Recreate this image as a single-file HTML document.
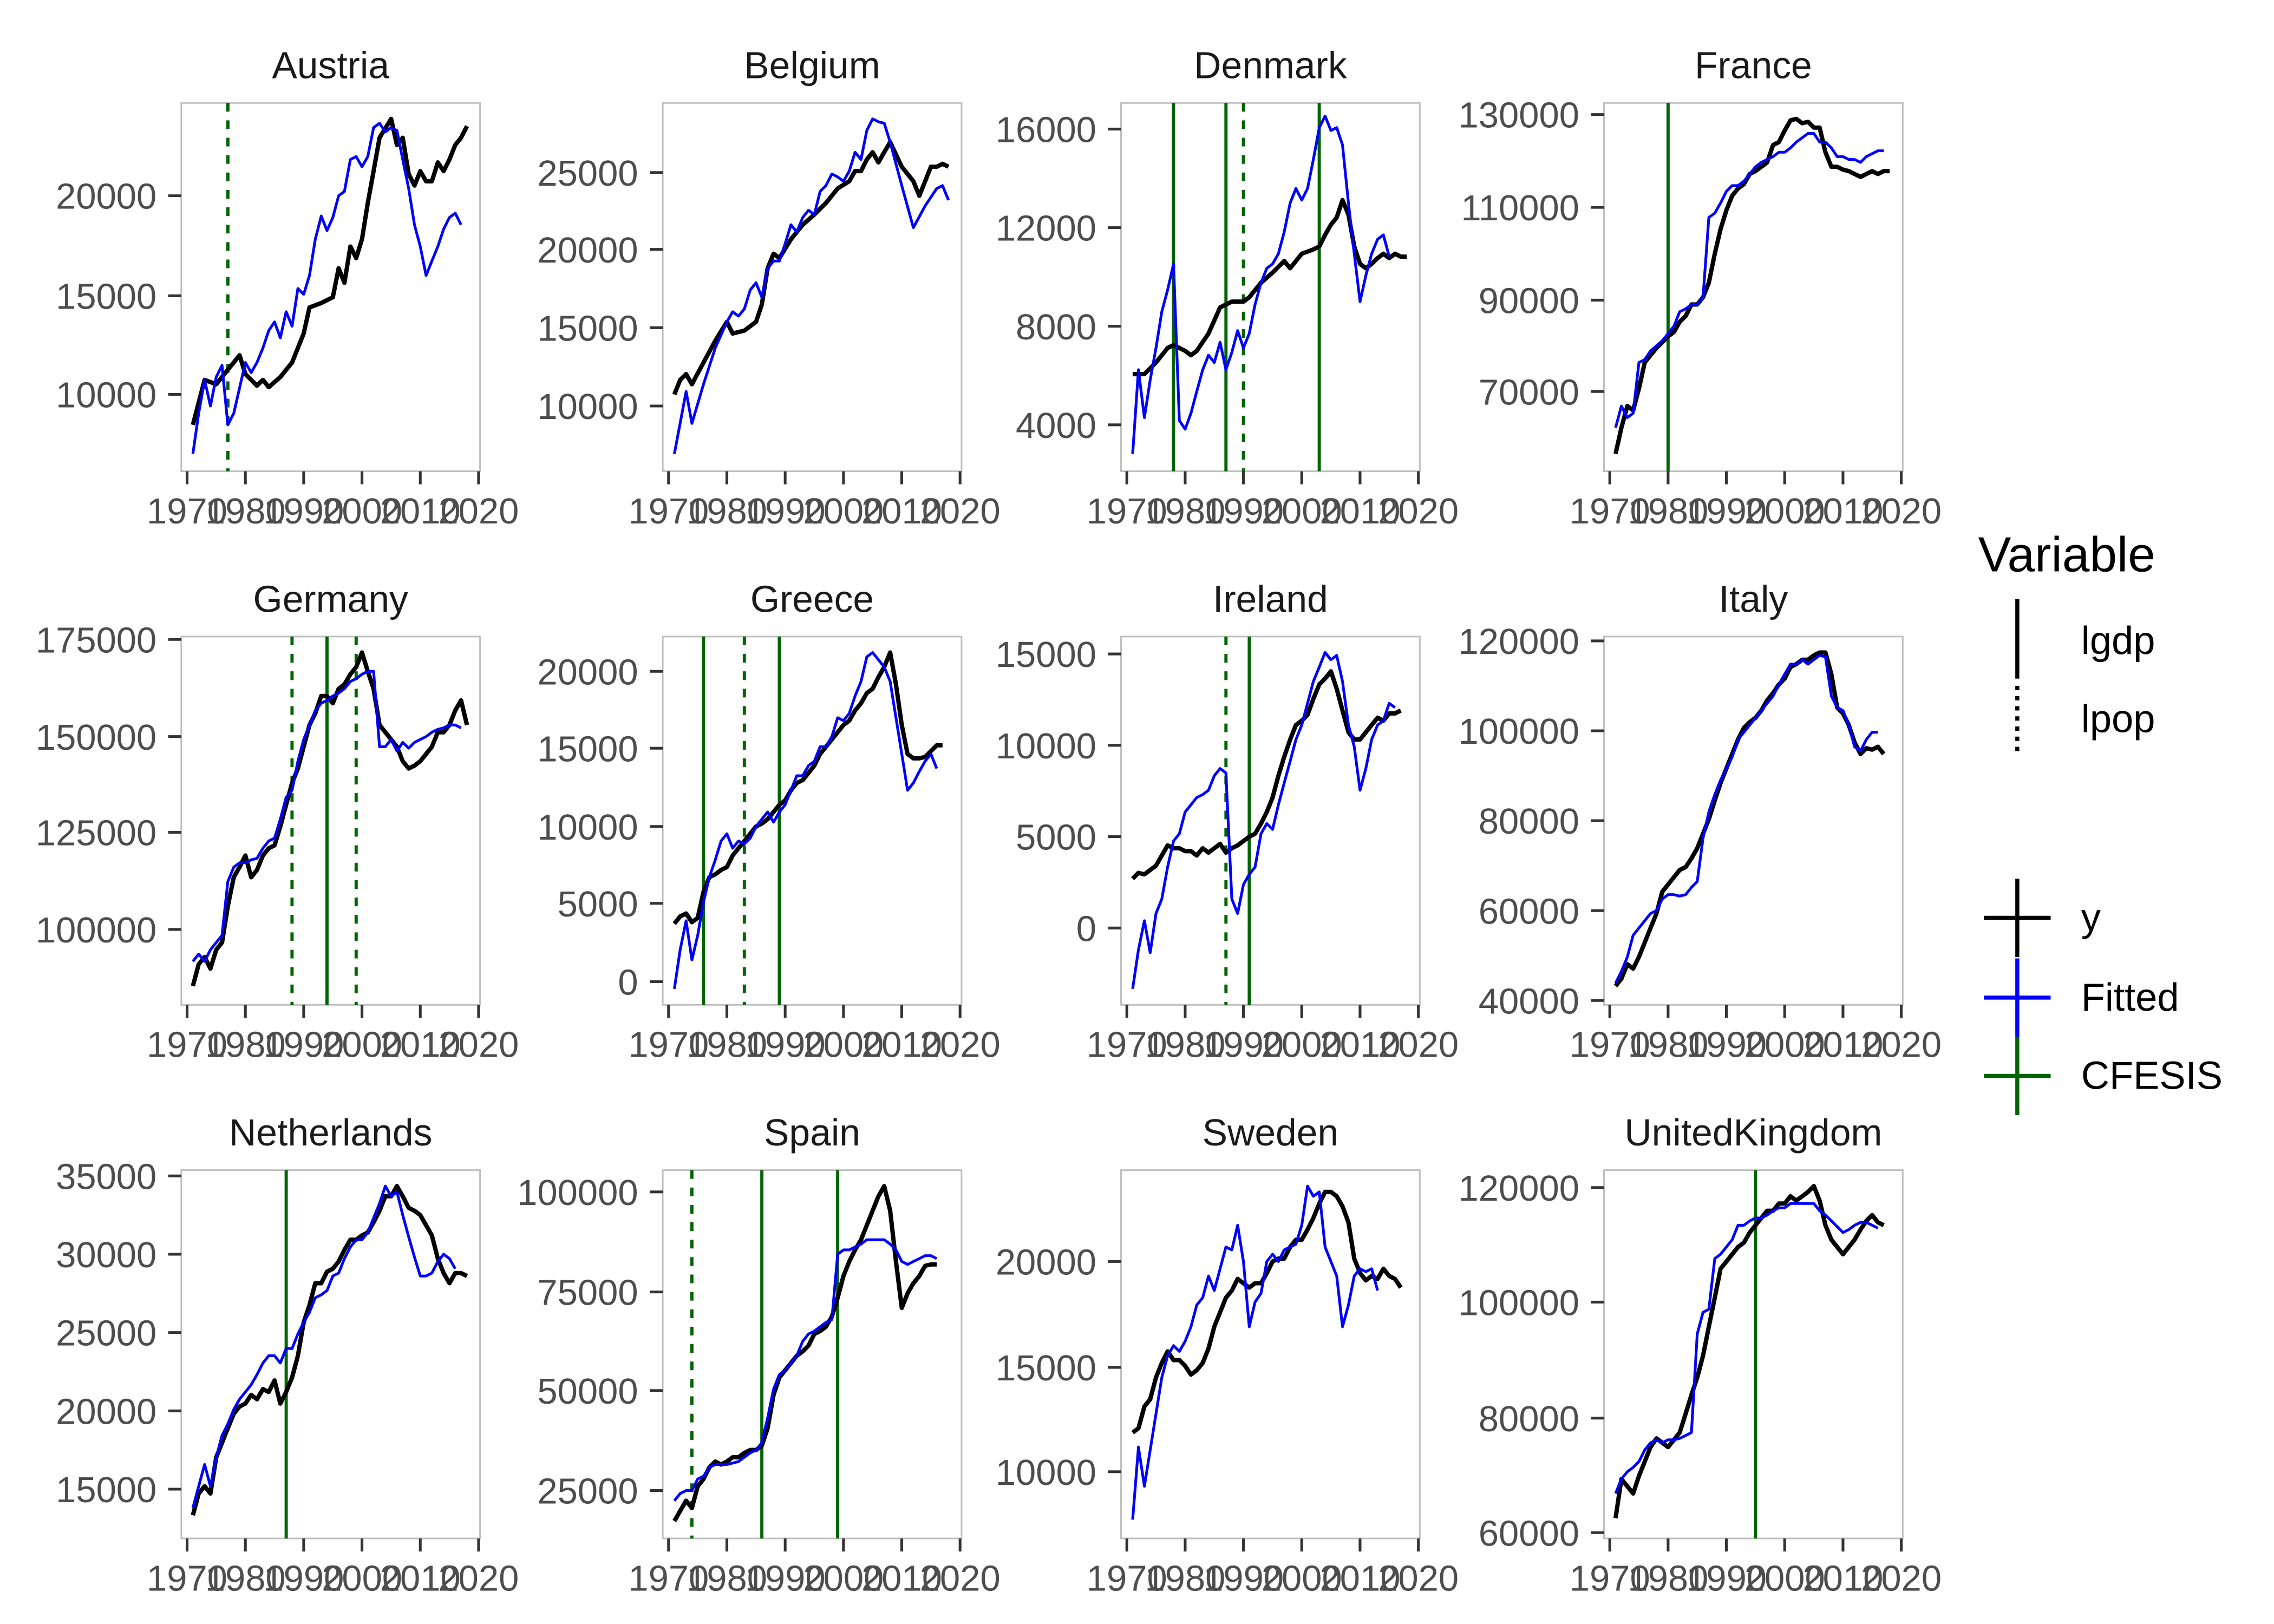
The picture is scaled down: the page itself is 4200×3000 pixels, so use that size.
<!DOCTYPE html>
<html><head><meta charset="utf-8"><style>html,body{margin:0;padding:0;background:#fff}svg{display:block}</style></head>
<body>
<svg id="s" xmlns="http://www.w3.org/2000/svg" width="4200" height="3000" viewBox="0 0 1568 1120" preserveAspectRatio="none" font-family="Liberation Sans, Arial, sans-serif"></svg>
<script>
const P=[
{n:"Austria",L:125,T:71,yt:[[10000,272],[15000,204],[20000,135]],g:[[1977,1]],
b:"1971:293 1973:262 1975:265 1977:255 1979:245 1980:258 1982:266 1983:262 1984:267 1986:260 1988:250 1990:230 1991:212 1993:209 1995:205 1996:185 1997:195 1998:170 1999:178 2000:165 2001:140 2002:118 2003:95 2005:82 2006:100 2007:95 2008:120 2009:128 2010:118 2011:125 2012:125 2013:112 2014:118 2015:110 2016:100 2017:95 2018:87",
u:"1971:313 1972:285 1973:262 1974:280 1975:260 1976:252 1977:293 1978:285 1980:250 1981:257 1982:250 1983:240 1984:228 1985:222 1986:233 1987:215 1988:225 1989:199 1990:203 1991:190 1992:165 1993:149 1994:159 1995:150 1996:135 1997:132 1998:110 1999:108 2000:115 2001:108 2002:88 2003:85 2004:91 2005:88 2006:90 2007:110 2008:130 2009:155 2010:170 2011:190 2012:180 2013:170 2014:158 2015:150 2016:147 2017:155"},
{n:"Belgium",L:457,T:71,yt:[[10000,280],[15000,226],[20000,172],[25000,119]],g:[],
b:"1971:272 1972:262 1973:258 1974:265 1976:250 1978:235 1980:222 1981:230 1983:228 1985:222 1986:210 1987:185 1988:175 1989:178 1991:165 1993:155 1995:148 1997:140 1999:130 2001:125 2002:118 2003:118 2004:110 2005:105 2006:112 2007:105 2008:98 2010:115 2012:125 2013:135 2014:125 2015:115 2016:115 2017:113 2018:115",
u:"1971:313 1973:270 1974:292 1976:265 1978:240 1980:222 1981:215 1982:218 1983:213 1984:200 1985:195 1986:205 1987:185 1988:180 1989:180 1990:168 1991:155 1992:160 1993:150 1994:145 1995:148 1996:132 1997:128 1998:120 1999:122 2000:125 2001:118 2002:105 2003:110 2004:90 2005:82 2006:84 2007:85 2008:98 2010:128 2012:157 2014:142 2016:130 2017:128 2018:138"},
{n:"Denmark",L:773,T:71,yt:[[4000,293],[8000,225],[12000,157],[16000,89]],g:[[1978,0],[1987,0],[1990,1],[2003,0]],
b:"1971:258 1973:258 1975:250 1977:240 1978:238 1980:242 1981:245 1982:242 1984:230 1986:212 1988:208 1990:208 1991:205 1993:195 1995:188 1997:180 1998:185 2000:175 2002:172 2003:170 2004:162 2005:155 2006:150 2007:138 2008:148 2009:170 2010:182 2011:185 2012:182 2013:178 2014:175 2015:178 2016:175 2017:177 2018:177",
u:"1971:313 1972:255 1973:288 1974:262 1975:240 1976:215 1977:200 1978:182 1979:290 1980:296 1981:285 1982:270 1983:255 1984:245 1985:250 1986:236 1987:255 1988:243 1989:228 1990:240 1991:230 1992:210 1993:195 1994:185 1995:182 1996:175 1997:160 1998:140 1999:130 2000:138 2001:130 2002:110 2003:88 2004:80 2005:90 2006:88 2007:100 2008:140 2009:175 2010:208 2011:190 2012:175 2013:165 2014:162 2015:177"},
{n:"France",L:1106,T:71,yt:[[70000,270],[90000,207],[110000,143],[130000,79]],g:[[1980,0]],
b:"1971:313 1972:295 1973:280 1974:283 1975:268 1976:250 1977:245 1978:240 1980:232 1981:229 1982:222 1983:218 1984:210 1985:210 1986:205 1987:195 1988:175 1989:158 1990:145 1991:135 1992:130 1993:127 1994:120 1995:118 1996:115 1997:112 1998:100 1999:98 2000:90 2001:83 2002:82 2003:85 2004:84 2005:88 2006:88 2007:105 2008:115 2009:115 2010:117 2011:118 2012:120 2013:122 2014:120 2015:118 2016:120 2017:118 2018:118",
u:"1971:295 1972:280 1973:288 1974:285 1975:250 1976:248 1977:242 1979:235 1980:230 1981:225 1982:215 1983:213 1984:210 1985:210 1986:205 1987:150 1988:147 1989:140 1990:132 1991:128 1992:128 1993:125 1994:120 1995:115 1996:112 1997:110 1998:108 1999:105 2000:105 2001:102 2002:98 2003:95 2004:92 2005:92 2006:98 2007:98 2008:102 2009:108 2010:108 2011:110 2012:110 2013:112 2014:108 2015:106 2016:104 2017:104"},
{n:"Germany",L:125,T:439,yt:[[100000,641],[125000,574],[150000,508],[175000,441]],g:[[1988,1],[1994,0],[1999,1]],
b:"1971:680 1972:665 1973:660 1974:668 1975:655 1976:650 1977:625 1978:605 1979:598 1980:590 1981:605 1982:600 1983:590 1984:585 1985:583 1986:570 1987:555 1988:540 1989:530 1990:515 1991:500 1992:492 1993:480 1994:480 1995:485 1996:475 1997:472 1998:465 1999:460 2000:450 2001:463 2002:475 2003:500 2004:505 2005:510 2006:515 2007:525 2008:530 2009:528 2010:525 2011:520 2012:515 2013:505 2014:505 2015:500 2016:490 2017:483 2018:500",
u:"1971:663 1972:658 1973:663 1974:655 1975:650 1976:645 1977:608 1978:598 1979:595 1980:595 1981:593 1982:592 1983:585 1984:580 1985:578 1986:565 1987:550 1988:545 1989:525 1990:510 1991:500 1992:490 1993:485 1994:483 1995:480 1996:478 1997:475 1998:470 1999:468 2000:465 2001:463 2002:463 2003:515 2004:515 2005:510 2006:518 2007:512 2008:516 2009:512 2010:510 2011:508 2012:505 2013:503 2014:502 2015:500 2016:500 2017:502"},
{n:"Greece",L:457,T:439,yt:[[0,677],[5000,623],[10000,570],[15000,516],[20000,463]],g:[[1976,0],[1983,1],[1989,0]],
b:"1971:637 1972:632 1973:630 1974:636 1975:633 1976:615 1977:605 1978:603 1979:600 1980:598 1981:590 1982:585 1983:580 1984:575 1985:570 1986:568 1987:565 1988:560 1989:555 1990:552 1991:545 1992:540 1993:538 1994:533 1995:528 1996:520 1997:515 1998:510 1999:505 2000:500 2001:497 2002:490 2003:485 2004:478 2005:475 2006:467 2007:460 2008:450 2009:472 2010:500 2011:520 2012:523 2013:523 2014:522 2015:518 2016:514 2017:514",
u:"1971:682 1972:655 1973:635 1974:662 1975:645 1976:622 1977:605 1978:593 1979:580 1980:575 1981:585 1982:580 1983:582 1984:578 1985:570 1986:565 1987:560 1988:567 1989:560 1990:555 1991:545 1992:535 1993:535 1994:528 1995:525 1996:515 1997:515 1998:508 1999:495 2000:497 2001:492 2002:480 2003:470 2004:453 2005:450 2006:455 2007:460 2008:470 2009:495 2010:520 2011:545 2012:540 2013:532 2014:525 2015:520 2016:530"},
{n:"Ireland",L:773,T:439,yt:[[0,640],[5000,577],[10000,514],[15000,451]],g:[[1987,1],[1991,0]],
b:"1971:606 1972:602 1973:603 1974:600 1975:597 1976:590 1977:583 1978:585 1979:585 1980:587 1981:587 1982:590 1983:585 1984:588 1985:585 1986:582 1987:588 1988:585 1989:583 1990:580 1991:577 1992:575 1993:568 1994:560 1995:550 1996:535 1997:522 1998:510 1999:500 2000:497 2001:493 2002:482 2003:472 2004:468 2005:463 2006:475 2007:490 2008:505 2009:510 2010:510 2011:505 2012:500 2013:495 2014:497 2015:492 2016:492 2017:490",
u:"1971:682 1972:655 1973:635 1974:657 1975:630 1976:620 1977:598 1978:580 1979:575 1980:560 1981:555 1982:550 1983:548 1984:545 1985:535 1986:530 1987:533 1988:620 1989:630 1990:610 1991:603 1992:598 1993:575 1994:568 1995:572 1996:555 1997:540 1998:525 1999:510 2000:500 2001:485 2002:470 2003:460 2004:450 2005:455 2006:452 2007:470 2008:500 2009:515 2010:545 2011:530 2012:510 2013:500 2014:497 2015:485 2016:488"},
{n:"Italy",L:1106,T:439,yt:[[40000,690],[60000,628],[80000,566],[100000,504],[120000,442]],g:[],
b:"1971:680 1972:675 1973:665 1974:668 1975:660 1976:650 1977:640 1978:630 1979:615 1980:610 1981:605 1982:600 1983:598 1984:592 1985:585 1986:575 1987:565 1988:552 1989:540 1990:530 1991:520 1992:510 1993:502 1994:498 1995:495 1996:490 1997:483 1998:478 1999:472 2000:468 2001:460 2002:458 2003:455 2004:455 2005:452 2006:450 2007:450 2008:465 2009:488 2010:492 2011:500 2012:512 2013:520 2014:516 2015:517 2016:515 2017:520",
u:"1971:678 1972:670 1973:660 1974:645 1975:640 1976:635 1977:630 1978:628 1979:620 1980:617 1981:617 1982:618 1983:617 1984:612 1985:608 1986:578 1987:560 1988:548 1989:538 1990:530 1991:522 1992:510 1993:505 1994:500 1995:495 1996:490 1997:485 1998:480 1999:472 2000:465 2001:458 2002:458 2003:455 2004:458 2005:455 2006:452 2007:453 2008:480 2009:488 2010:490 2011:500 2012:515 2013:518 2014:510 2015:505 2016:505"},
{n:"Netherlands",L:125,T:807,yt:[[15000,1027],[20000,973],[25000,919],[30000,865],[35000,811]],g:[[1987,0]],
b:"1971:1045 1972:1030 1973:1025 1974:1030 1975:1005 1976:995 1977:985 1978:975 1979:970 1980:968 1981:962 1982:965 1983:958 1984:960 1985:952 1986:968 1987:960 1988:950 1989:935 1990:912 1991:900 1992:885 1993:885 1994:877 1995:875 1996:870 1997:862 1998:855 1999:855 2000:852 2001:850 2002:843 2003:835 2004:825 2005:825 2006:818 2007:825 2008:833 2009:835 2010:838 2011:845 2012:852 2013:868 2014:878 2015:885 2016:878 2017:878 2018:880",
u:"1971:1040 1972:1025 1973:1010 1974:1025 1975:1005 1976:990 1977:982 1978:972 1979:965 1980:960 1981:955 1982:948 1983:940 1984:935 1985:935 1986:940 1987:930 1988:930 1989:920 1990:912 1991:905 1992:895 1993:893 1994:890 1995:880 1996:878 1997:868 1998:860 1999:855 2000:855 2001:850 2002:840 2003:830 2004:818 2005:825 2006:822 2007:838 2008:853 2009:867 2010:880 2011:880 2012:878 2013:870 2014:865 2015:868 2016:875"},
{n:"Spain",L:457,T:807,yt:[[25000,1028],[50000,959],[75000,891],[100000,822]],g:[[1974,1],[1986,0],[1999,0]],
b:"1971:1049 1972:1042 1973:1035 1974:1040 1975:1025 1976:1020 1977:1012 1978:1008 1979:1010 1980:1008 1981:1005 1982:1005 1983:1002 1984:1000 1985:1000 1986:997 1987:985 1988:962 1989:950 1990:945 1991:940 1992:935 1993:932 1994:928 1995:920 1996:918 1997:915 1998:908 1999:895 2000:880 2001:870 2002:862 2003:855 2004:845 2005:835 2006:825 2007:818 2008:835 2009:870 2010:902 2011:892 2012:885 2013:880 2014:873 2015:872 2016:872",
u:"1971:1035 1972:1030 1973:1028 1974:1028 1975:1020 1976:1018 1977:1012 1978:1010 1980:1010 1982:1008 1984:1002 1985:1000 1986:995 1987:978 1988:958 1989:948 1990:945 1991:940 1992:935 1993:925 1994:920 1995:918 1996:915 1997:912 1998:910 1999:865 2000:862 2001:862 2002:860 2003:858 2004:855 2005:855 2006:855 2007:855 2008:858 2009:862 2010:870 2011:872 2012:870 2013:868 2014:866 2015:866 2016:868"},
{n:"Sweden",L:773,T:807,yt:[[10000,1015],[15000,943],[20000,870]],g:[],
b:"1971:988 1972:985 1973:970 1974:965 1975:950 1976:940 1977:932 1978:938 1979:938 1980:942 1981:948 1982:945 1983:940 1984:930 1985:915 1986:905 1987:895 1988:890 1989:882 1990:885 1991:888 1992:885 1993:885 1994:878 1995:870 1996:868 1997:868 1998:860 1999:855 2000:855 2001:848 2002:840 2003:830 2004:822 2005:822 2006:825 2007:832 2008:843 2009:868 2010:878 2011:883 2012:880 2013:882 2014:875 2015:880 2016:882 2017:888",
u:"1971:1048 1972:998 1973:1025 1974:1000 1975:975 1976:950 1977:935 1978:928 1979:932 1980:925 1981:915 1982:900 1983:895 1984:880 1985:890 1986:875 1987:860 1988:862 1989:845 1990:870 1991:915 1992:898 1993:892 1994:870 1995:865 1996:870 1997:862 1998:860 1999:858 2000:845 2001:818 2002:825 2003:822 2004:860 2005:870 2006:880 2007:915 2008:900 2009:880 2010:875 2011:877 2012:875 2013:890"},
{n:"UnitedKingdom",L:1106,T:807,yt:[[60000,1057],[80000,978],[100000,898],[120000,819]],g:[[1995,0]],
b:"1971:1047 1972:1020 1973:1025 1974:1030 1975:1018 1976:1008 1977:998 1978:992 1979:995 1980:998 1981:993 1982:988 1983:975 1984:962 1985:950 1986:935 1987:915 1988:895 1989:875 1990:870 1991:865 1992:860 1993:857 1994:850 1995:845 1996:840 1997:835 1998:835 1999:830 2000:830 2001:825 2002:828 2003:825 2004:822 2005:818 2006:828 2007:845 2008:855 2009:860 2010:865 2011:860 2012:855 2013:848 2014:842 2015:838 2016:843 2017:845",
u:"1971:1030 1972:1020 1973:1015 1974:1012 1975:1008 1976:1000 1977:995 1978:993 1979:995 1980:993 1981:993 1982:992 1983:990 1984:988 1985:920 1986:905 1987:903 1988:868 1989:865 1990:860 1991:855 1992:845 1993:845 1994:842 1995:840 1996:840 1997:838 1998:835 1999:833 2000:833 2001:830 2002:830 2003:830 2004:830 2005:830 2006:835 2007:838 2008:842 2009:846 2010:850 2011:848 2012:845 2013:843 2014:843 2015:845 2016:847"}
];
const W=206,H=254;let o="";
function X(p,yr){return p.L+4+(yr-1970)*4.02}
function pts(p,s){return s.split(" ").map(t=>{const[a,b]=t.split(":");return X(p,+a).toFixed(1)+","+b}).join(" ")}
for(const p of P){
 const cx=p.L+W/2;
 o+=`<text x="${cx}" y="${p.T-17}" font-size="26" text-anchor="middle" fill="#1a1a1a">${p.n}</text>`;
 o+=`<rect x="${p.L}" y="${p.T}" width="${W}" height="${H}" fill="#fff" stroke="#bebebe" stroke-width="1.1"/>`;
 for(const[v,y]of p.yt){o+=`<line x1="${p.L-9}" x2="${p.L}" y1="${y}" y2="${y}" stroke="#333" stroke-width="1.9"/><text x="${p.L-17}" y="${y+9}" font-size="25" text-anchor="end" fill="#4d4d4d">${v}</text>`;}
 for(let yr=1970;yr<=2020;yr+=10){const x=X(p,yr);o+=`<line x1="${x}" x2="${x}" y1="${p.T+H}" y2="${p.T+H+9}" stroke="#333" stroke-width="1.9"/><text x="${x}" y="${p.T+H+36}" font-size="25" text-anchor="middle" fill="#4d4d4d">${yr}</text>`;}
 for(const[yr,d]of p.g){const x=X(p,yr);o+=`<line x1="${x}" x2="${x}" y1="${p.T}" y2="${p.T+H}" stroke="#006400" stroke-width="2.2" ${d?'stroke-dasharray="6,6"':''}/>`;}
 o+=`<polyline points="${pts(p,p.b)}" fill="none" stroke="#000" stroke-width="3" stroke-linejoin="round"/>`;
 o+=`<polyline points="${pts(p,p.u)}" fill="none" stroke="#0000ff" stroke-width="1.9" stroke-linejoin="round"/>`;
}
// legend
o+=`<text x="1364" y="394" font-size="34" fill="#000">Variable</text>`;
o+=`<line x1="1391" x2="1391" y1="413" y2="468" stroke="#000" stroke-width="2.8"/>`;
o+=`<line x1="1391" x2="1391" y1="473" y2="522" stroke="#000" stroke-width="2.8" stroke-dasharray="3,4"/>`;
o+=`<text x="1435" y="451" font-size="27" fill="#000">lgdp</text><text x="1435" y="505" font-size="27" fill="#000">lpop</text>`;
const L2=[["y","#000",633],["Fitted","#0000ff",688],["CFESIS","#006400",742]];
for(const[t,c,y]of L2){o+=`<line x1="1391" x2="1391" y1="${y-27}" y2="${y+27}" stroke="${c}" stroke-width="2.8"/><line x1="1368" x2="1414" y1="${y}" y2="${y}" stroke="${c}" stroke-width="2.8"/><text x="1435" y="${y+9}" font-size="27" fill="#000">${t}</text>`;}
document.getElementById("s").innerHTML=o;
</script>
</body></html>
